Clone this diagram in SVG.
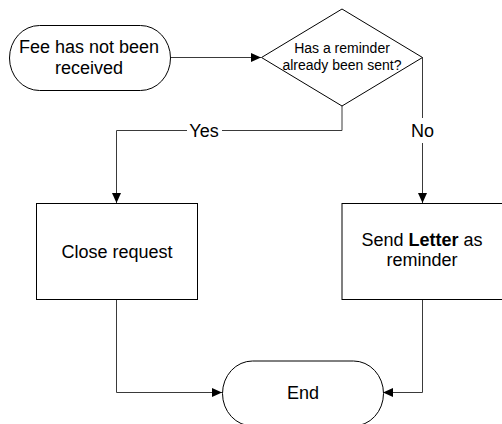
<svg xmlns="http://www.w3.org/2000/svg" width="502" height="424" viewBox="0 0 502 424">
<defs>
<style>
.node{fill:#fff;stroke:#000;stroke-width:1}
.conn{fill:none;stroke:#3a3a3a;stroke-width:1}
text{font-family:"Liberation Sans",Arial,sans-serif;fill:#000;text-anchor:middle}
.t18{font-size:18px}
.t14{font-size:14px}
</style>
<marker id="arr" viewBox="0 0 10 9" refX="10" refY="4.5" markerWidth="10" markerHeight="9" markerUnits="userSpaceOnUse" orient="auto">
<path d="M0,0 L10,4.5 L0,9 Z" fill="#000"/>
</marker>
</defs>
<rect width="502" height="424" fill="#fff"/>
<g id="connectors">
<path class="conn" d="M171,57.5 H261" marker-end="url(#arr)"/>
<path class="conn" d="M342,106 V130.5 H222"/>
<path class="conn" d="M187,130.5 H116.5 V203" marker-end="url(#arr)"/>
<path class="conn" d="M422.5,57.5 V118"/>
<path class="conn" d="M422.5,143 V203" marker-end="url(#arr)"/>
<path class="conn" d="M116.5,300 V392.5 H222" marker-end="url(#arr)"/>
<path class="conn" d="M422.5,300 V392.5 H383" marker-end="url(#arr)"/>
<text class="t18" x="204" y="136.5">Yes</text>
<text class="t18" x="422.5" y="136.5">No</text>
</g>
<g id="start">
<rect class="node" x="9.5" y="25.5" width="161" height="65" rx="30" ry="32.5"/>
<text class="t18" x="89" y="52.5">Fee has not been</text>
<text class="t18" x="89" y="73.5">received</text>
</g>
<g id="decision">
<polygon class="node" points="342,9 422.5,57.5 342,106 261.5,57.5"/>
<text class="t14" x="342" y="53">Has a reminder</text>
<text class="t14" x="342" y="70">already been sent?</text>
</g>
<g id="close">
<rect class="node" x="36.5" y="203.5" width="161" height="96"/>
<text class="t18" x="117" y="257.5">Close request</text>
</g>
<g id="send">
<rect class="node" x="342" y="203.5" width="162" height="96"/>
<text class="t18" x="422" y="245.5">Send <tspan font-weight="bold">Letter</tspan> as</text>
<text class="t18" x="422" y="266">reminder</text>
</g>
<g id="end">
<rect class="node" x="222.5" y="361" width="161" height="65" rx="30" ry="32.5"/>
<text class="t18" x="303" y="398.5">End</text>
</g>
</svg>
